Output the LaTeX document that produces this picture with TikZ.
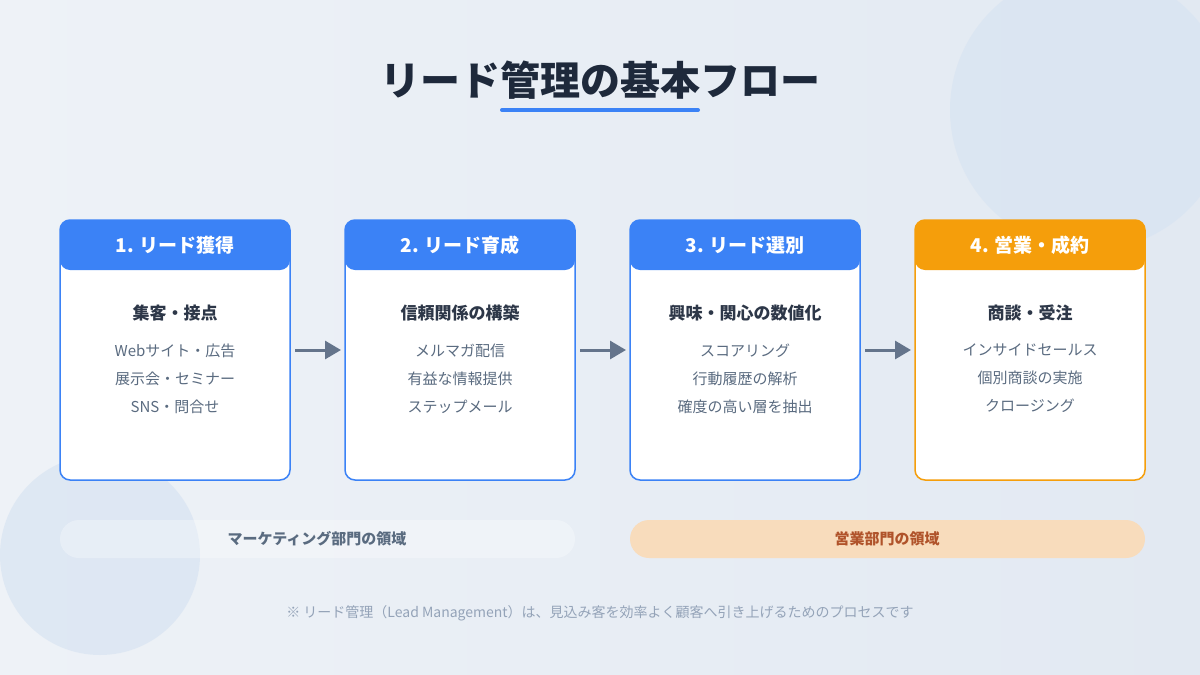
\documentclass[tikz,border=0pt]{standalone}
\usepackage{fontspec}
\setmainfont{Noto Sans CJK JP}
\usetikzlibrary{arrows.meta}
\definecolor{bgA}{HTML}{EEF2F7}
\definecolor{bgB}{HTML}{E2E9F2}
\definecolor{circ}{HTML}{D8E4F2}
\definecolor{blu}{HTML}{3B82F6}
\definecolor{org}{HTML}{F59E0B}
\definecolor{dark}{HTML}{1E293B}
\definecolor{sub}{HTML}{2D3748}
\definecolor{item}{HTML}{5A6B80}
\definecolor{arr}{HTML}{64748B}
\definecolor{band}{HTML}{F8DCBC}
\definecolor{bandt}{HTML}{B0532A}
\definecolor{foot}{HTML}{94A3B8}
\tikzset{
 card/.style={draw=#1,line width=1.5pt,fill=white,rounded corners=10pt},
 head/.style={fill=#1,rounded corners=10pt},
 htext/.style={text=white,font=\fontsize{19}{22}\selectfont\bfseries},
 stext/.style={text=sub,font=\fontsize{17}{20}\selectfont\bfseries},
 itext/.style={text=item,font=\fontsize{15}{28}\selectfont,align=center},
 flow/.style={draw=arr,line width=3pt,-{Triangle[length=16pt,width=18pt]}},
}
\begin{document}
\begin{tikzpicture}[x=1pt,y=-1pt]
\useasboundingbox (0,0) rectangle (1200,675);
\shade[left color=bgA,right color=bgB] (0,0) rectangle (1200,675);
\fill[circ,opacity=0.7] (1090,110) circle (140);
\fill[circ,opacity=0.7] (100,555) circle (100);
\node[text=dark,font=\fontsize{40}{48}\selectfont\bfseries] (title) at (600,80) {リード管理の基本フロー};
\draw[blu,line width=4pt,line cap=round] (502,110) -- (698,110);
\foreach \i/\x/\c/\h/\s/\t in {1/60/blu/1. リード獲得/集客・接点/{Webサイト・広告\\展示会・セミナー\\SNS・問合せ},
 2/345/blu/2. リード育成/信頼関係の構築/{メルマガ配信\\有益な情報提供\\ステップメール},
 3/630/blu/3. リード選別/興味・関心の数値化/{スコアリング\\行動履歴の解析\\確度の高い層を抽出},
 4/915/org/4. 営業・成約/商談・受注/{インサイドセールス\\個別商談の実施\\クロージング}}{
 \draw[card=\c] (\x,220) rectangle (\x+230,480);
 \fill[head=\c] (\x,220) rectangle (\x+230,270);
 \node[htext] (h\i) at (\x+115,245) {\h};
 \node[stext] (s\i) at (\x+115,313) {\s};
 \node[itext,anchor=north] (t\i) at (\x+115,340) {\t};
 \coordinate (L\i) at (\x-4,350);
 \coordinate (R\i) at (\x+234,350);
}
\draw[flow] (R1) ++(1,0) -- (L2);
\draw[flow] (R2) ++(1,0) -- (L3);
\draw[flow] (R3) ++(1,0) -- (L4);
\fill[white,opacity=0.3,rounded corners=19pt] (60,520) rectangle (575,558);
\node[text=item,font=\fontsize{15}{18}\selectfont\bfseries] (b1) at (317,539) {マーケティング部門の領域};
\fill[band,rounded corners=19pt] (630,520) rectangle (1145,558);
\node[text=bandt,font=\fontsize{15}{18}\selectfont\bfseries] (b2) at (887,539) {営業部門の領域};
\node[text=foot,font=\fontsize{14}{17}\selectfont] (ft) at (600,613) {※ リード管理（Lead Management）は、見込み客を効率よく顧客へ引き上げるためのプロセスです};
\end{tikzpicture}
\end{document}
